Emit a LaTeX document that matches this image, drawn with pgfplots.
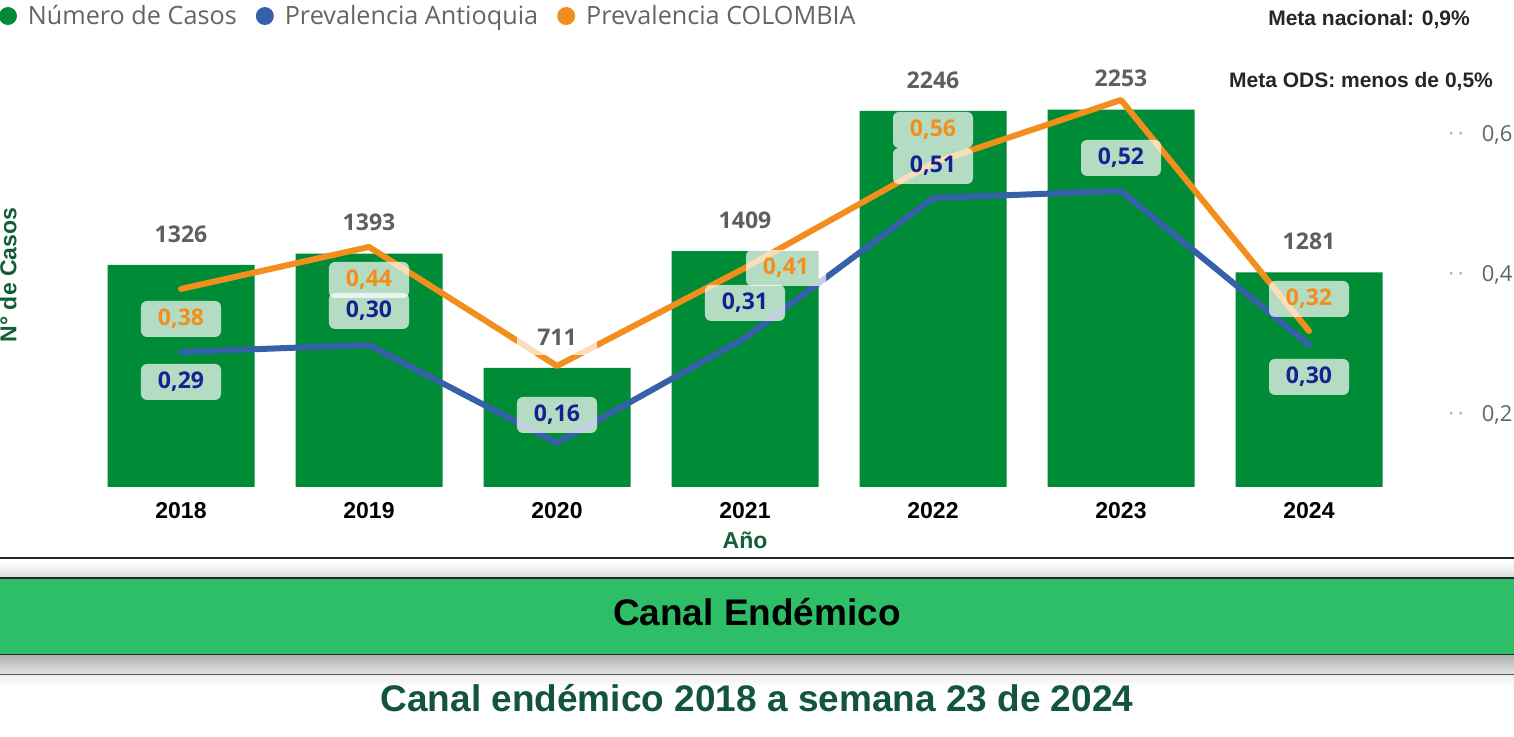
\documentclass[border=0pt]{standalone}
\usepackage{fontspec}
\setmainfont{Open Sans}
\newfontfamily\arial{Liberation Sans}
\usepackage{pgfplots}
\pgfplotsset{compat=1.18}
\usepackage{pgfplotstable}

\definecolor{barGreen}{RGB}{0,139,54}
\definecolor{colOrange}{RGB}{242,142,28}
\definecolor{antBlue}{RGB}{55,96,170}
\definecolor{antText}{RGB}{22,32,145}
\definecolor{valGray}{RGB}{95,95,95}
\definecolor{legGray}{RGB}{100,100,100}
\definecolor{axGreen}{RGB}{18,95,55}
\definecolor{titleGreen}{RGB}{18,85,60}
\definecolor{banner}{RGB}{46,190,104}

% pixel coordinates of the 1514x737 reference, origin top left
\newcommand{\px}[2]{({(#1)*0.5pt},{(737-(#2))*0.5pt})}

\pgfplotstableread{
x casos
0 1326
1 1393
2 711
3 1409
4 2246
5 2253
6 1281
}\casos

\pgfplotstableread{
x ant col
0 0.29 0.38
1 0.30 0.44
2 0.16 0.27
3 0.31 0.41
4 0.51 0.56
5 0.52 0.65
6 0.30 0.32
}\prev

% label offsets in px (dy up)
\pgfplotstableread{
x y dx dy
0 0.29 0 -30
1 0.30 0 34
2 0.16 0 28
3 0.31 0 35
4 0.51 0 32
5 0.52 0 33
6 0.30 0 -32
}\antlab

\pgfplotstableread{
x y dx dy
0 0.38 0 -30
1 0.44 0 -33
3 0.41 41 0
4 0.56 0 33
6 0.32 0 32
}\collab

\pgfplotsset{
  base/.style={
    at={(43.5pt,125pt)}, anchor=south west,
    width=658pt, height=213.5pt, scale only axis,
    xmin=-0.5, xmax=6.5, clip=false,
  },
}
\tikzset{
  lbox/.style={
    anchor=center, inner sep=0pt, minimum width=40pt, minimum height=18pt,
    fill=white, fill opacity=0.7, text opacity=1, rounded corners=3pt,
    font=\bfseries\fontsize{11.5}{12}\selectfont,
  },
}

\begin{document}
\begin{tikzpicture}
\path[use as bounding box] \px{0}{0} rectangle \px{1514}{737};

% bars
\begin{axis}[base,
  ymin=0, ymax=2550,
  axis x line*=bottom, axis y line*=left,
  axis line style={draw=none},
  major tick length=0pt, tick align=inside,
  ytick=\empty,
  xtick={0,...,6},
  xticklabels={2018,2019,2020,2021,2022,2023,2024},
  xticklabel style={anchor=center, yshift=-12pt,
    font=\arial\bfseries\fontsize{11.5}{12}\selectfont},
  xlabel={Año},
  xlabel style={at={(axis description cs:0.5,0)}, anchor=center, yshift=-26.5pt,
    text=axGreen, font=\arial\bfseries\fontsize{11.5}{12}\selectfont},
  ylabel={N° de Casos},
  ylabel style={at={(axis description cs:-0.06,0.4965)}, anchor=center,
    text=axGreen, font=\arial\bfseries\fontsize{11.5}{12}\selectfont},
]
\addplot[ybar, bar width=73.5pt, bar shift=0pt, fill=barGreen, draw=none]
  table[x=x, y=casos]{\casos};
\end{axis}

% prevalence lines
\begin{axis}[base,
  ymin=0.0971, ymax=0.7071,
  hide x axis,
  axis y line*=right,
  axis line style={draw=none},
  major tick length=0pt,
  ytick={0.2,0.4,0.6},
  yticklabels={{\textcolor{black!30}{·\,·}\hspace{9pt}0,2},
               {\textcolor{black!30}{·\,·}\hspace{9pt}0,4},
               {\textcolor{black!30}{·\,·}\hspace{9pt}0,6}},
  yticklabel style={anchor=west, inner sep=0pt, xshift=22.5pt,
    text=legGray, font=\fontsize{11}{12}\selectfont},
  legend columns=3,
  legend style={at={(axis description cs:-0.0718,1.103)}, anchor=west,
    draw=none, fill=none, text=legGray, font=\fontsize{12.6}{14}\selectfont,
    /tikz/every even column/.append style={column sep=7.5pt}},
  legend image code/.code={\fill[#1, draw=none] (0.3cm,0pt) circle (4.5pt);
    \path[draw=none, fill=none] (0.3cm,0pt) -- ++(8pt,0pt);},
]
\addlegendimage{fill=barGreen}
\addlegendentry{Número de Casos}
\addlegendimage{fill=antBlue}
\addlegendentry{Prevalencia Antioquia}
\addlegendimage{fill=colOrange}
\addlegendentry{Prevalencia COLOMBIA}

\addplot[antBlue, line width=3pt, line cap=round, line join=round, forget plot]
  table[x=x, y=ant]{\prev};
\addplot[colOrange, line width=3pt, line cap=round, line join=round, forget plot]
  table[x=x, y=col]{\prev};

\addplot[draw=none, forget plot, point meta=y,
  visualization depends on={\thisrow{dx} \as \dx},
  visualization depends on={\thisrow{dy} \as \dy},
  nodes near coords={\pgfmathprintnumber[fixed, fixed zerofill, precision=2,
    use comma, assume math mode=true]{\pgfplotspointmeta}},
  every node near coord/.append style={lbox, text=antText,
    xshift=0.5pt*\dx, yshift=0.5pt*\dy}]
  table[x=x, y=y]{\antlab};
\addplot[draw=none, forget plot, point meta=y,
  visualization depends on={\thisrow{dx} \as \dx},
  visualization depends on={\thisrow{dy} \as \dy},
  nodes near coords={\pgfmathprintnumber[fixed, fixed zerofill, precision=2,
    use comma, assume math mode=true]{\pgfplotspointmeta}},
  every node near coord/.append style={lbox, text=colOrange,
    xshift=0.5pt*\dx, yshift=0.5pt*\dy}]
  table[x=x, y=y]{\collab};
\end{axis}

% bar value labels, on top of the lines
\begin{axis}[base, ymin=0, ymax=2550, hide axis]
\addplot[draw=none, point meta=y,
  nodes near coords={\pgfmathprintnumber[fixed, precision=0, 1000 sep={},
    assume math mode=true]{\pgfplotspointmeta}},
  every node near coord/.append style={lbox, rounded corners=0pt,
    text=valGray, yshift=15.5pt}]
  table[x=x, y=casos]{\casos};
\end{axis}

% goals, top right
\node[font=\arial\bfseries\fontsize{10.5}{12}\selectfont, text=black!85]
  at \px{1369}{20} {Meta nacional: 0,9\%};
\node[font=\arial\bfseries\fontsize{10.5}{12}\selectfont, text=black!85]
  at \px{1361}{82} {Meta ODS: menos de 0,5\%};

% bottom band
\draw[line width=1pt, black!85] \px{0}{558} -- \px{1514}{558};
\fill[top color=white, bottom color=black!15] \px{0}{562} rectangle \px{1514}{578};
\fill[banner] \px{0}{578} rectangle \px{1514}{655};
\draw[line width=1.2pt, black!85] \px{0}{578} -- \px{1514}{578};
\draw[line width=1.2pt, black!85] \px{0}{655} -- \px{1514}{655};
\fill[top color=black!30, bottom color=black!10] \px{0}{656} rectangle \px{1514}{675};
\draw[line width=1pt, black!65] \px{0}{675} -- \px{1514}{675};
\fill[top color=black!6, bottom color=white] \px{0}{676} rectangle \px{1514}{688};
\node[font=\arial\bfseries\fontsize{18.5}{20}\selectfont, text=black]
  at \px{757}{612} {Canal Endémico};
\node[font=\arial\bfseries\fontsize{18.5}{20}\selectfont, text=titleGreen]
  at \px{757}{698} {Canal endémico 2018 a semana 23 de 2024};
\end{tikzpicture}
\end{document}
